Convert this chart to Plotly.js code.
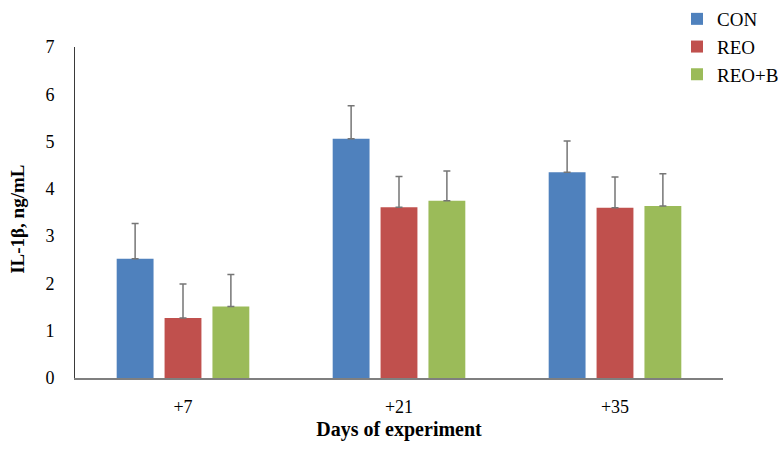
<!DOCTYPE html>
<html>
<head>
<meta charset="utf-8">
<script src="https://cdn.plot.ly/plotly-3.0.1.min.js"></script>
<style>
  html, body { margin: 0; padding: 0; background: #ffffff; }
  #chart { width: 784px; height: 450px; }
</style>
</head>
<body>
<div id="chart"></div>
<script>
// Sampling days and group means (IL-1β, ng/mL) with upper error bars
const days = ['+7', '+21', '+35'];
const groupNames = ['CON', 'REO', 'REO+B'];

const conMean = [2.52, 5.06, 4.35];
const conErr = [0.75, 0.70, 0.66];
const reoMean = [1.27, 3.61, 3.60];
const reoErr = [0.72, 0.65, 0.65];
const reoBMean = [1.51, 3.75, 3.64];
const reoBErr = [0.68, 0.63, 0.68];

const yTicks = [0, 1, 2, 3, 4, 5, 6, 7];

const colors = ['#4f81bd', '#c0504d', '#9bbb59'];
const means = [conMean, reoMean, reoBMean];
const errs = [conErr, reoErr, reoBErr];

const serif = 'Liberation Serif, Times New Roman, serif';

const traces = groupNames.map((name, i) => ({
  type: 'bar',
  name: name,
  x: days,
  y: means[i],
  legendgroup: name,
  marker: { color: colors[i], line: { width: 0 } },
  error_y: {
    type: 'data',
    symmetric: false,
    array: errs[i],
    arrayminus: errs[i].map(() => 0),
    color: '#767676',
    thickness: 1.5,
    width: 3.5
  },
  hoverinfo: 'x+y+name'
}));

const layout = {
  width: 784,
  height: 450,
  paper_bgcolor: '#ffffff',
  plot_bgcolor: '#ffffff',
  // fixed margins: the legend sits in the top-right corner without resizing the plot
  margin: { l: 74.5, r: 61, t: 47, b: 72, autoexpand: false },
  barmode: 'group',
  bargap: 0.335,
  bargroupgap: 0.23,
  font: { family: serif, size: 18, color: '#000000' },
  showlegend: true,
  legend: {
    xref: 'container', yref: 'container',
    x: 677 / 784, xanchor: 'left',
    y: 1.019, yanchor: 'top',
    traceorder: 'grouped',
    tracegroupgap: 0,
    font: { family: serif, size: 19, color: '#000000' },
    bgcolor: 'rgba(0,0,0,0)'
  },
  xaxis: {
    type: 'category',
    showline: true,
    linecolor: '#7f7f7f',
    linewidth: 2,
    ticks: '',
    ticklabelstandoff: 11,
    showgrid: false,
    zeroline: false,
    tickfont: { family: serif, size: 18, color: '#000000' },
    title: {
      text: '<b>Days of experiment</b>',
      font: { family: serif, size: 20, color: '#000000' },
      standoff: 6
    }
  },
  yaxis: {
    range: [0, 7],
    tickvals: yTicks,
    ticktext: yTicks.map(String),
    showline: true,
    linecolor: '#3a3a3a',
    linewidth: 1,
    ticks: '',
    ticklabelstandoff: 16,
    showgrid: false,
    zeroline: false,
    tickfont: { family: serif, size: 18, color: '#000000' }
  },
  annotations: [{
    text: '<b>IL-1β, ng/mL</b>',
    textangle: -90,
    xref: 'paper', yref: 'paper',
    x: -0.09, y: 0.48,
    xanchor: 'center', yanchor: 'middle',
    showarrow: false,
    font: { family: serif, size: 19, color: '#000000' }
  }]
};

Plotly.newPlot('chart', traces, layout, { displayModeBar: false, staticPlot: true });
</script>
</body>
</html>
